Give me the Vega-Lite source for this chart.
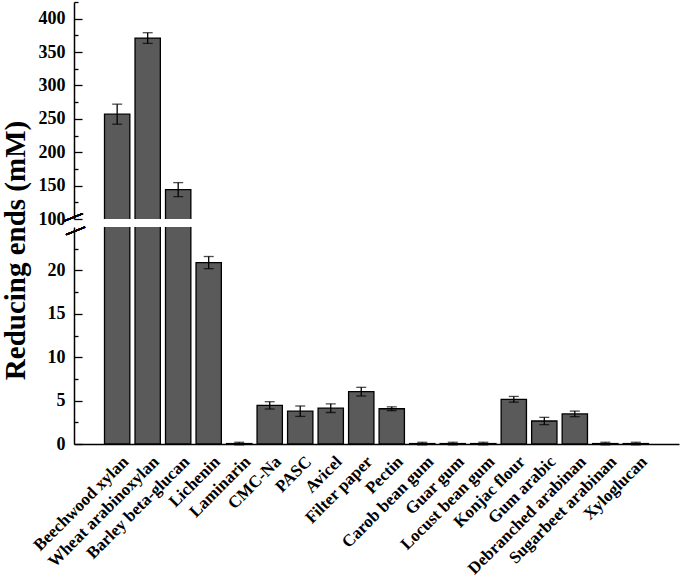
{
  "$schema": "https://vega.github.io/schema/vega-lite/v6.json",
  "padding": {"top": 1, "left": 0, "right": 2, "bottom": 0},
  "spacing": 8,
  "bounds": "flush",
  "data": {"values": [
    {"cat": "Beechwood xylan", "value": 257, "err": 15},
    {"cat": "Wheat arabinoxylan", "value": 371, "err": 8},
    {"cat": "Barley beta-glucan", "value": 144, "err": 10.5},
    {"cat": "Lichenin", "value": 20.9, "err": 0.7},
    {"cat": "Laminarin", "value": 0.05, "err": 0.15},
    {"cat": "CMC-Na", "value": 4.45, "err": 0.42},
    {"cat": "PASC", "value": 3.78, "err": 0.6},
    {"cat": "Avicel", "value": 4.13, "err": 0.5},
    {"cat": "Filter paper", "value": 6.03, "err": 0.5},
    {"cat": "Pectin", "value": 4.06, "err": 0.22},
    {"cat": "Carob bean gum", "value": 0.05, "err": 0.15},
    {"cat": "Guar gum", "value": 0.05, "err": 0.15},
    {"cat": "Locust bean gum", "value": 0.05, "err": 0.15},
    {"cat": "Konjac flour", "value": 5.15, "err": 0.33},
    {"cat": "Gum arabic", "value": 2.65, "err": 0.42},
    {"cat": "Debranched arabinan", "value": 3.47, "err": 0.32},
    {"cat": "Sugarbeet arabinan", "value": 0.05, "err": 0.15},
    {"cat": "Xyloglucan", "value": 0.05, "err": 0.15}
  ]},
  "config": {
    "view": {"stroke": null},
    "font": "Liberation Serif",
    "axis": {
      "grid": false,
      "labelOverlap": false,
      "domainColor": "black",
      "domainWidth": 1.5,
      "tickColor": "black",
      "tickWidth": 1.3,
      "labelColor": "black",
      "labelFont": "Liberation Serif",
      "labelFontWeight": "bold",
      "labelFontSize": 18,
      "titleFont": "Liberation Serif",
      "titleColor": "black",
      "titleFontWeight": "bold"
    }
  },
  "vconcat": [
    {
      "width": 605,
      "height": 217,
      "layer": [
        {
          "encoding": {
            "x": {"field": "cat", "type": "nominal", "sort": null, "axis": null,
                  "scale": {"paddingInner": 0.17, "paddingOuter": 1.1}},
            "y": {"field": "value", "type": "quantitative",
                  "scale": {"domain": [100, 425], "nice": false, "zero": false},
                  "axis": {
                    "title": null,
                    "orient": "left",
                    "values": [100, 150, 200, 250, 300, 350, 400],
                    "labelOverlap": false,
                    "tickSize": -8,
                    "labelPadding": 17
                  }}
          },
          "layer": [
            {"mark": {"type": "bar", "clip": true, "fill": "#5a5a5a", "stroke": "black", "strokeWidth": 1.3}},
            {"transform": [{"filter": "datum.value > 100"}],
             "mark": {"type": "errorbar", "color": "black", "thickness": 1.3, "size": 10, "ticks": true},
             "encoding": {"yError": {"field": "err"}}}
          ]
        },
        {
          "mark": {"type": "text", "text": "—", "angle": -22, "fontSize": 20, "fontWeight": "bold", "color": "black", "align": "center", "baseline": "middle", "dy": -3},
          "encoding": {
            "x": {"datum": 0, "type": "quantitative", "scale": {"domain": [0, 1]}, "axis": null},
            "y": {"datum": 100, "type": "quantitative",
                  "axis": {"orient": "left", "title": null, "values": [125, 175, 225, 275, 325, 375, 425],
                           "labels": false, "domain": false, "tickSize": -4}}
          }
        }
      ],
      "resolve": {"scale": {"x": "independent"}, "axis": {"y": "independent"}}
    },
    {
      "width": 605,
      "height": 217,
      "layer": [
        {
          "encoding": {
            "x": {"field": "cat", "type": "nominal", "sort": null,
                  "scale": {"paddingInner": 0.17, "paddingOuter": 1.1},
                  "axis": {"title": null, "labelAngle": -45, "ticks": false, "labelPadding": 9, "labelOffset": 3, "labelFontSize": 17, "domainWidth": 1.5}},
            "y": {"field": "value", "type": "quantitative",
                  "scale": {"domain": [0, 25], "nice": false},
                  "axis": {
                    "title": "Reducing ends (mM)",
                    "orient": "left",
                    "titleFontSize": 29,
                    "titleY": 23,
                    "titleX": -50,
                    "titleBaseline": "alphabetic",
                    "values": [0, 5, 10, 15, 20],
                    "labelOverlap": false,
                    "tickSize": -8,
                    "labelPadding": 17
                  }}
          },
          "layer": [
            {"mark": {"type": "bar", "clip": true, "fill": "#5a5a5a", "stroke": "black", "strokeWidth": 1.3}},
            {"transform": [{"filter": "datum.value < 25"}],
             "mark": {"type": "errorbar", "color": "black", "thickness": 1.3, "size": 10, "ticks": true},
             "encoding": {"yError": {"field": "err"}}}
          ]
        },
        {
          "mark": {"type": "text", "text": "—", "angle": -22, "fontSize": 20, "fontWeight": "bold", "color": "black", "align": "center", "baseline": "middle", "dy": 3},
          "encoding": {
            "x": {"datum": 0, "type": "quantitative", "scale": {"domain": [0, 1]}, "axis": null},
            "y": {"datum": 25, "type": "quantitative",
                  "axis": {"orient": "left", "title": null, "values": [2.5, 7.5, 12.5, 17.5, 22.5],
                           "labels": false, "domain": false, "tickSize": -4}}
          }
        }
      ],
      "resolve": {"scale": {"x": "independent"}, "axis": {"y": "independent"}}
    }
  ]
}
